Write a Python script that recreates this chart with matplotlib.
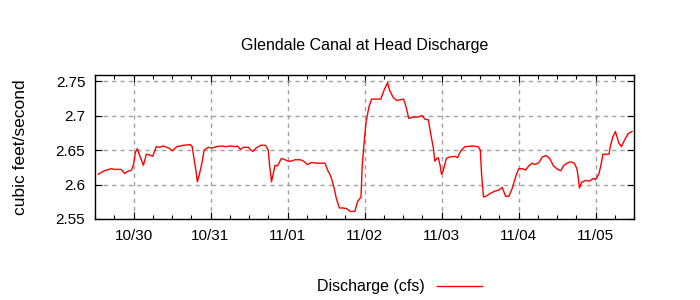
import numpy as np
import pandas as pd
import matplotlib
matplotlib.use('Agg')
import matplotlib.pyplot as plt
import matplotlib.dates as mdates

plt.rcParams['font.family'] = ['Liberation Sans', 'DejaVu Sans']

# hours after 10/29 12:00 and discharge in cfs
horas = [1.0, 2.9, 5.0, 6.2, 8.1, 9.3, 10.1, 11.4, 12.0, 12.6, 13.2, 14.1, 15.1, 16.0,
         17.0, 18.0, 19.1, 20.1, 21.2, 23.0, 24.1, 25.5, 27.6, 29.7, 30.3, 30.9, 31.5,
         31.9, 32.6, 33.4, 34.0, 35.3, 36.5, 37.8, 39.6, 40.7, 42.2, 43.8, 44.4, 45.3,
         46.3, 47.8, 48.4, 49.2, 50.2, 51.7, 53.1, 54.0, 54.4, 54.8, 55.0, 55.5, 56.1,
         56.9, 58.1, 59.2, 60.2, 61.2, 62.3, 64.0, 65.0, 66.2, 67.5, 69.2, 70.8, 71.7,
         72.5, 73.2, 73.7, 74.6, 75.2, 76.2, 77.3, 78.5, 79.5, 81.0, 81.8, 82.9, 83.3,
         83.9, 84.5, 85.4, 86.2, 88.1, 89.1, 90.1, 91.2, 91.8, 93.0, 94.1, 96.2, 97.0,
         97.8, 99.1, 100.7, 102.0, 102.8, 103.9, 104.7, 105.5, 105.9, 106.6, 107.0,
         107.6, 108.0, 108.6, 109.5, 110.5, 112.2, 113.0, 114.0, 115.3, 117.8, 119.4,
         120.1, 120.5, 121.1, 121.9, 122.8, 124.4, 125.9, 126.9, 128.0, 129.0, 130.0,
         131.3, 132.1, 133.2, 134.2, 135.2, 136.3, 137.1, 138.4, 139.4, 140.6, 141.7,
         142.9, 144.2, 145.2, 146.0, 147.1, 148.3, 149.4, 150.2, 150.6, 151.0, 151.6,
         152.9, 154.1, 155.4, 156.0, 157.1, 157.9, 158.3, 160.2, 160.6, 161.4, 162.2,
         163.3, 164.1, 165.2, 166.2, 167.4]
caudal = [2.615, 2.620, 2.623, 2.622, 2.622, 2.616, 2.619, 2.621, 2.629, 2.647, 2.652,
          2.640, 2.628, 2.644, 2.643, 2.641, 2.655, 2.654, 2.656, 2.653, 2.649, 2.655,
          2.657, 2.658, 2.655, 2.636, 2.619, 2.604, 2.616, 2.633, 2.650, 2.654, 2.653,
          2.655, 2.656, 2.655, 2.656, 2.655, 2.656, 2.651, 2.654, 2.654, 2.651, 2.648,
          2.653, 2.657, 2.657, 2.650, 2.628, 2.614, 2.604, 2.614, 2.628, 2.627, 2.638,
          2.636, 2.634, 2.634, 2.636, 2.636, 2.634, 2.629, 2.632, 2.631, 2.631, 2.631,
          2.621, 2.615, 2.609, 2.594, 2.580, 2.566, 2.566, 2.565, 2.561, 2.561, 2.575,
          2.582, 2.628, 2.662, 2.691, 2.713, 2.724, 2.724, 2.724, 2.737, 2.748, 2.737,
          2.726, 2.722, 2.724, 2.712, 2.696, 2.698, 2.698, 2.700, 2.695, 2.694, 2.672,
          2.652, 2.634, 2.638, 2.639, 2.627, 2.615, 2.621, 2.638, 2.640, 2.641, 2.639,
          2.649, 2.655, 2.656, 2.655, 2.650, 2.614, 2.582, 2.583, 2.586, 2.590, 2.592,
          2.596, 2.583, 2.583, 2.594, 2.614, 2.623, 2.623, 2.621, 2.627, 2.631, 2.629,
          2.632, 2.640, 2.642, 2.638, 2.627, 2.622, 2.620, 2.627, 2.631, 2.633, 2.631,
          2.623, 2.611, 2.595, 2.603, 2.606, 2.605, 2.609, 2.607, 2.616, 2.633, 2.644,
          2.644, 2.655, 2.669, 2.677, 2.660, 2.655, 2.666, 2.674, 2.677]

inicio = pd.Timestamp('2023-10-29 12:00')
fin = pd.Timestamp('2023-11-05 12:00')
fechas = inicio + pd.to_timedelta(horas, unit='h')

fig = plt.figure(figsize=(7, 3), dpi=100)
ax = fig.add_axes([95 / 700, 1 - 219 / 300, 539 / 700, 144 / 300])

ax.plot(fechas, caudal, color='red', linewidth=1.0, label='Discharge (cfs)')

ax.set_xlim(inicio, fin)
ax.set_ylim(2.55, 2.759)
ax.set_yticks([2.55, 2.6, 2.65, 2.7, 2.75])
ax.set_yticklabels(['2.55', '2.6', '2.65', '2.7', '2.75'])

ax.xaxis.set_major_locator(mdates.DayLocator())
ax.xaxis.set_major_formatter(mdates.DateFormatter('%m/%d'))
ax.xaxis.set_minor_locator(mdates.HourLocator(byhour=[6, 12, 18]))

ax.tick_params(which='both', direction='in', top=True, right=True, labelsize=11,
               colors='black', pad=7)
ax.tick_params(which='major', length=5, width=0.8)
ax.tick_params(which='minor', length=3, width=0.8)

ax.grid(True, which='major', color='#a0a0a0', linestyle=(0, (3, 3)), linewidth=1.0)
for s in ax.spines.values():
    s.set_linewidth(1.0)

ax.set_title('Glendale Canal at Head Discharge', fontsize=11.5, pad=18)
ax.set_ylabel('cubic feet/second', fontsize=12.5, labelpad=20)

ax.legend(loc='center', bbox_to_anchor=(0.5 + 35 / 539, -0.47), frameon=False,
          markerfirst=False, fontsize=11.5, handlelength=2.8, handletextpad=0.8)

plt.savefig('out.png', dpi=100)
